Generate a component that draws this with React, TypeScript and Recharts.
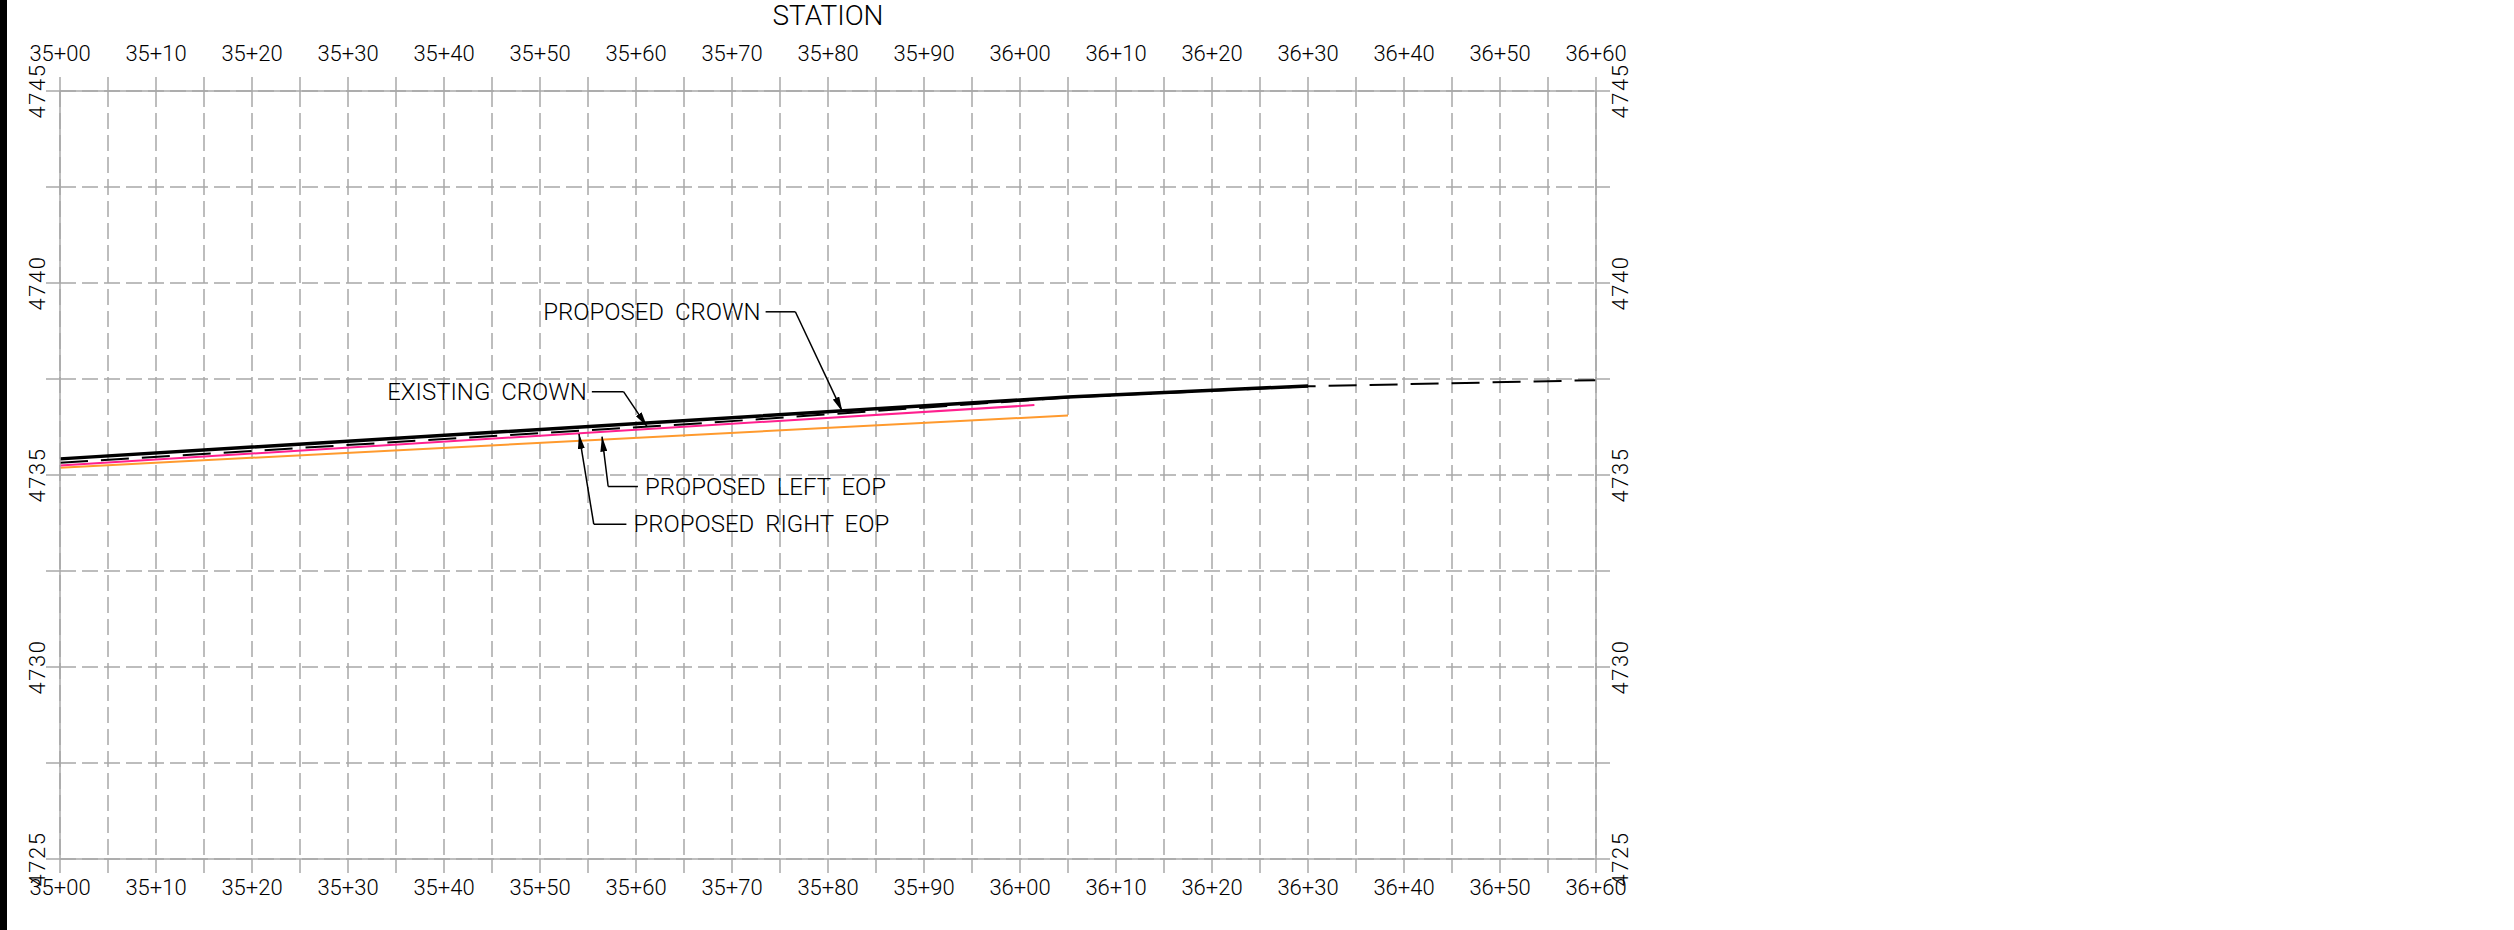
import React from "react";
import { ComposedChart, Line, XAxis, YAxis, CartesianGrid, ReferenceLine } from "recharts";

// stations (ft) and elevations
const stationTicks = [
  3500, 3505, 3510, 3515, 3520, 3525, 3530, 3535, 3540, 3545, 3550, 3555, 3560, 3565, 3570, 3575,
  3580, 3585, 3590, 3595, 3600, 3605, 3610, 3615, 3620, 3625, 3630, 3635, 3640, 3645, 3650, 3655, 3660,
];
const elevTicks = [4725, 4727.5, 4730, 4732.5, 4735, 4737.5, 4740, 4742.5, 4745];

const proposedCrownSta = [3500, 3605, 3630];
const proposedCrownElev = [4735.42, 4737.03, 4737.32];

const existingCrownSta = [3500, 3567, 3605, 3630, 3660];
const existingCrownElev = [4735.32, 4736.35, 4737.02, 4737.31, 4737.47];

const rightEopSta = [3500, 3601.5];
const rightEopElev = [4735.25, 4736.82];

const leftEopSta = [3500, 3605];
const leftEopElev = [4735.19, 4736.55];

// callouts: text row elevation, leader from `start` to `elbow` station, arrow tip [sta, elev]
const callouts = [
  { label: "PROPOSED CROWN", side: "left", row: 4739.25, start: 3573.5, elbow: 3576.6, tip: [3581.5, 4736.65] },
  { label: "EXISTING CROWN", side: "left", row: 4737.17, start: 3555.4, elbow: 3558.7, tip: [3561.15, 4736.26] },
  { label: "PROPOSED LEFT EOP", side: "right", row: 4734.7, start: 3560.2, elbow: 3557.1, tip: [3556.46, 4736.0] },
  { label: "PROPOSED RIGHT EOP", side: "right", row: 4733.72, start: 3559.0, elbow: 3555.6, tip: [3554.06, 4736.07] },
];

const zip = (sta: number[], elev: number[]) => sta.map((s, i) => ({ station: s, elev: elev[i] }));
const proposedCrown = zip(proposedCrownSta, proposedCrownElev);
const existingCrown = zip(existingCrownSta, existingCrownElev);
const rightEop = zip(rightEopSta, rightEopElev);
const leftEop = zip(leftEopSta, leftEopElev);

const FONT = "Roboto, 'DejaVu Sans', sans-serif";
const GRID = "#a8a8a8";

const fmtStation = (v: number) => `${Math.floor(v / 100)}+${String(Math.round(v % 100)).padStart(2, "0")}`;

const renderStationTick = (props: any) => {
  const { x, y, payload } = props;
  const v = Number(payload && payload.value);
  if (Math.round(v) % 10 !== 0) return <g />;
  return (
    <text x={x} y={y} textAnchor="middle" dominantBaseline="central" fontFamily={FONT} fontWeight={300} fontSize={22} fill="#000">
      {fmtStation(v)}
    </text>
  );
};

const renderElevTick = (props: any) => {
  const { x, y, payload } = props;
  const v = Number(payload && payload.value);
  if (v % 5 !== 0) return <g />;
  return (
    <text
      x={x}
      y={y}
      transform={`rotate(-90 ${x} ${y})`}
      textAnchor="middle"
      dominantBaseline="central"
      fontFamily={FONT}
      fontWeight={300}
      fontSize={22}
      letterSpacing={1.5}
      fill="#000"
    >
      {v}
    </text>
  );
};

export default function App() {
  const axisLine = { stroke: GRID, strokeWidth: 1.5 };
  return (
    <div style={{ position: "absolute", left: 0, top: 0, width: 2514, height: 930, background: "#fff" }}>
      <div style={{ position: "absolute", left: 0, top: 0, width: 7, height: 930, background: "#000" }} />
      <div
        style={{
          position: "absolute",
          left: 728,
          width: 200,
          top: 0,
          height: 32,
          lineHeight: "32px",
          textAlign: "center",
          fontFamily: FONT,
          fontWeight: 300,
          fontSize: 28,
        }}
      >
        STATION
      </div>
      <ComposedChart width={2514} height={930} margin={{ top: 0, right: 0, bottom: 0, left: 0 }}>
        <defs>
          <marker id="arrowHead" markerWidth="15" markerHeight="7" refX="15" refY="3.5" orient="auto" markerUnits="userSpaceOnUse">
            <path d="M0,0 L15,3.5 L0,7 z" fill="#000" />
          </marker>
        </defs>
        <CartesianGrid xAxisId="bottom" yAxisId="left" stroke={GRID} strokeWidth={1.5} strokeDasharray="16 6" />
        <XAxis
          xAxisId="top"
          orientation="top"
          type="number"
          dataKey="station"
          domain={[3500, 3660]}
          ticks={stationTicks}
          interval={0}
          height={91}
          tickSize={14}
          tickMargin={24}
          axisLine={axisLine}
          tickLine={axisLine}
          tick={renderStationTick}
        />
        <XAxis
          xAxisId="bottom"
          orientation="bottom"
          type="number"
          dataKey="station"
          domain={[3500, 3660]}
          ticks={stationTicks}
          interval={0}
          height={71}
          tickSize={14}
          tickMargin={14}
          axisLine={axisLine}
          tickLine={axisLine}
          tick={renderStationTick}
        />
        <YAxis
          yAxisId="left"
          orientation="left"
          type="number"
          domain={[4725, 4745]}
          ticks={elevTicks}
          interval={0}
          width={60}
          tickSize={14}
          tickMargin={9}
          axisLine={axisLine}
          tickLine={axisLine}
          tick={renderElevTick}
        />
        <YAxis
          yAxisId="right"
          orientation="right"
          type="number"
          domain={[4725, 4745]}
          ticks={elevTicks}
          interval={0}
          width={918}
          tickSize={14}
          tickMargin={10}
          axisLine={axisLine}
          tickLine={axisLine}
          tick={renderElevTick}
        />
        {/* invisible copy so the top/right axes carry data of their own */}
        <Line
          xAxisId="top"
          yAxisId="right"
          data={proposedCrown}
          dataKey="elev"
          stroke="none"
          dot={false}
          activeDot={false}
          legendType="none"
          isAnimationActive={false}
        />
        <Line
          xAxisId="bottom"
          yAxisId="left"
          data={leftEop}
          dataKey="elev"
          type="linear"
          stroke="#ff9a2e"
          strokeWidth={2}
          dot={false}
          isAnimationActive={false}
        />
        <Line
          xAxisId="bottom"
          yAxisId="left"
          data={rightEop}
          dataKey="elev"
          type="linear"
          stroke="#ff1f8e"
          strokeWidth={2}
          dot={false}
          isAnimationActive={false}
        />
        <Line
          xAxisId="bottom"
          yAxisId="left"
          data={existingCrown}
          dataKey="elev"
          type="linear"
          stroke="#000"
          strokeWidth={2}
          strokeDasharray="28 13"
          dot={false}
          isAnimationActive={false}
        />
        <Line
          xAxisId="bottom"
          yAxisId="left"
          data={proposedCrown}
          dataKey="elev"
          type="linear"
          stroke="#000"
          strokeWidth={3.5}
          dot={false}
          isAnimationActive={false}
        />
        {callouts.map((c) => (
          <ReferenceLine
            key={c.label + "-h"}
            xAxisId="bottom"
            yAxisId="left"
            ifOverflow="visible"
            segment={[
              { x: c.start, y: c.row },
              { x: c.elbow, y: c.row },
            ]}
            shape={(p: any) => (
              <g>
                <line x1={p.x1} y1={p.y1} x2={p.x2} y2={p.y2} stroke="#000" strokeWidth={1.5} />
                <text
                  x={p.x1 + (c.side === "left" ? -5 : 7)}
                  y={p.y1}
                  textAnchor={c.side === "left" ? "end" : "start"}
                  dominantBaseline="central"
                  fontFamily={FONT}
                  fontWeight={300}
                  fontSize={24}
                  wordSpacing={5}
                  fill="#000"
                >
                  {c.label}
                </text>
              </g>
            )}
          />
        ))}
        {callouts.map((c) => (
          <ReferenceLine
            key={c.label + "-a"}
            xAxisId="bottom"
            yAxisId="left"
            ifOverflow="visible"
            segment={[
              { x: c.elbow, y: c.row },
              { x: c.tip[0], y: c.tip[1] },
            ]}
            shape={(p: any) => (
              <line x1={p.x1} y1={p.y1} x2={p.x2} y2={p.y2} stroke="#000" strokeWidth={1.5} markerEnd="url(#arrowHead)" />
            )}
          />
        ))}
      </ComposedChart>
    </div>
  );
}
